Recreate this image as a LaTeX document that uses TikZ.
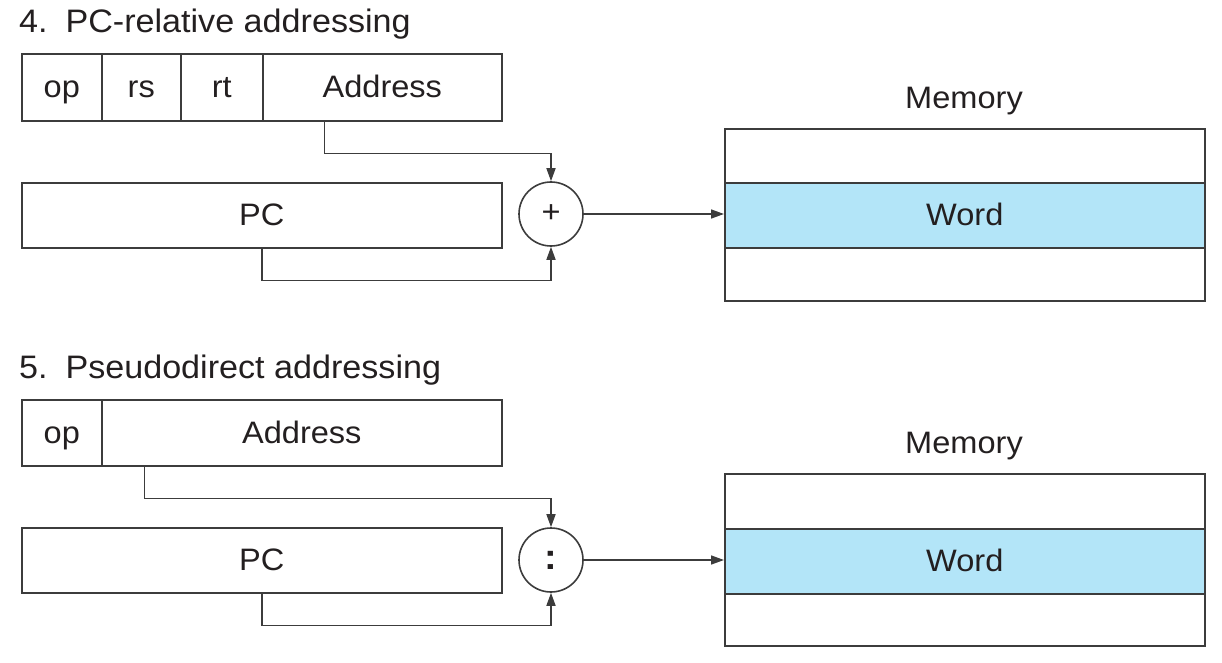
\documentclass[tikz,border=0pt]{standalone}
\usepackage{fontspec}
\setmainfont{Liberation Sans}[FakeStretch=1.05]
\usetikzlibrary{arrows.meta}
\definecolor{lc}{RGB}{60,60,60}
\definecolor{txt}{RGB}{35,31,32}
\definecolor{wordblue}{RGB}{179,229,248}
\begin{document}
\begin{tikzpicture}[x=1pt,y=-1pt,
  fld/.style={draw=lc, line width=1.6pt, rectangle, inner sep=0pt, anchor=north west,
    font=\fontsize{31}{37}\selectfont, text=txt, text height=27pt, text depth=6pt},
  lbl/.style={inner sep=0pt, font=\fontsize{31}{37}\selectfont, text=txt},
  ttl/.style={inner sep=0pt, font=\fontsize{32.5}{38}\selectfont, text=txt, anchor=base west},
  circ/.style={draw=lc, line width=1.6pt, circle, minimum size=64pt, inner sep=0pt,
    font=\fontsize{31}{37}\selectfont, text=txt},
  arr/.style={draw=lc, line width=1.6pt, -{Triangle[length=13pt,width=9pt]}}
]
\useasboundingbox (0,0) rectangle (1222,663);

% ---------- 4. PC-relative addressing ----------
\node[ttl] (t4) at (19,33) {4.\hspace{0.55em}PC-relative addressing};
\node[fld, minimum width=80pt, minimum height=67pt] (op4) at (21,53) {op};
\node[fld, minimum width=79pt, minimum height=67pt] (rs4) at (101,53) {rs};
\node[fld, minimum width=82pt, minimum height=67pt] (rt4) at (180,53) {rt};
\node[fld, minimum width=239pt, minimum height=67pt] (addr4) at (262,53) {Address};
\node[fld, minimum width=480pt, minimum height=65pt] (pc4) at (21,182) {PC};
\node[circ] (plus) at (551,214) {+};
\node[lbl, anchor=base] (mem4) at (964,109) {Memory};
\node[fld, minimum width=480pt, minimum height=54pt] (mtop4) at (724,128) {};
\node[fld, fill=wordblue, minimum width=480pt, minimum height=65pt] (word4) at (724,182) {Word};
\node[fld, minimum width=480pt, minimum height=53pt] (mbot4) at (724,247) {};

\draw[arr] ([xshift=-58pt]addr4.south) -- ++(0,32) -| (plus.north);
\draw[arr] (pc4.south) -- ++(0,32) -| (plus.south);
\draw[arr] (plus.east) -- (plus.east -| word4.west);

% ---------- 5. Pseudodirect addressing ----------
\node[ttl] (t5) at (19,378) {5.\hspace{0.55em}Pseudodirect addressing};
\node[fld, minimum width=80pt, minimum height=66pt] (op5) at (21,399) {op};
\node[fld, minimum width=400pt, minimum height=66pt] (addr5) at (101,399) {Address};
\node[fld, minimum width=480pt, minimum height=65pt] (pc5) at (21,527) {PC};
\node[circ, font=\fontsize{36}{40}\selectfont\bfseries] (colon) at (551,560) {:};
\node[lbl, anchor=base] (mem5) at (964,453) {Memory};
\node[fld, minimum width=480pt, minimum height=55pt] (mtop5) at (724,473) {};
\node[fld, fill=wordblue, minimum width=480pt, minimum height=65pt] (word5) at (724,528) {Word};
\node[fld, minimum width=480pt, minimum height=52pt] (mbot5) at (724,593) {};

\draw[arr] ([xshift=42pt]op5.south east) -- ++(0,32) -| (colon.north);
\draw[arr] (pc5.south) -- ++(0,32) -| (colon.south);
\draw[arr] (colon.east) -- (colon.east -| word5.west);
\end{tikzpicture}
\end{document}
